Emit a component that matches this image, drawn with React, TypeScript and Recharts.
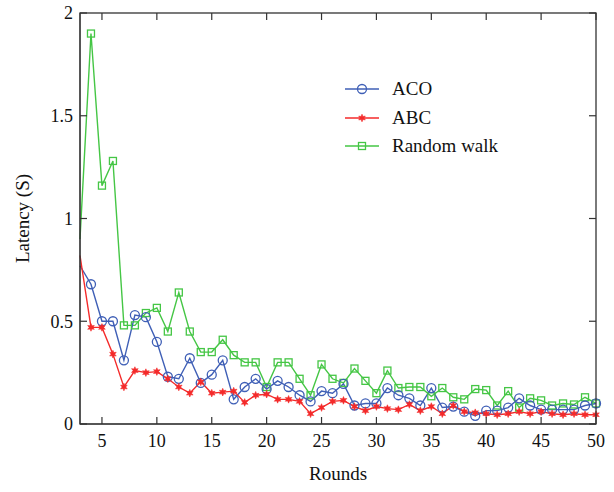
import React from "react"
import { LineChart, Line, XAxis, YAxis } from "recharts"

const rounds = [3, 4, 5, 6, 7, 8, 9, 10, 11, 12, 13, 14, 15, 16, 17, 18, 19, 20, 21, 22, 23, 24, 25, 26, 27, 28, 29, 30, 31, 32, 33, 34, 35, 36, 37, 38, 39, 40, 41, 42, 43, 44, 45, 46, 47, 48, 49, 50]

const aco = [0.77, 0.68, 0.5, 0.5, 0.31, 0.53, 0.52, 0.4, 0.23, 0.22, 0.32, 0.2, 0.24, 0.31, 0.12, 0.18, 0.22, 0.17, 0.21, 0.18, 0.14, 0.11, 0.16, 0.15, 0.195, 0.09, 0.1, 0.1, 0.175, 0.14, 0.125, 0.09, 0.175, 0.08, 0.085, 0.06, 0.04, 0.065, 0.065, 0.08, 0.125, 0.09, 0.07, 0.07, 0.07, 0.07, 0.09, 0.1]

const abc = [0.82, 0.47, 0.47, 0.34, 0.18, 0.26, 0.25, 0.255, 0.22, 0.18, 0.15, 0.205, 0.15, 0.155, 0.16, 0.105, 0.14, 0.145, 0.12, 0.12, 0.11, 0.05, 0.08, 0.11, 0.115, 0.085, 0.065, 0.085, 0.075, 0.07, 0.095, 0.065, 0.085, 0.05, 0.09, 0.06, 0.055, 0.05, 0.045, 0.05, 0.06, 0.05, 0.06, 0.05, 0.045, 0.05, 0.045, 0.045]

const randomWalk = [0.9, 1.9, 1.16, 1.28, 0.48, 0.48, 0.54, 0.565, 0.45, 0.64, 0.45, 0.35, 0.35, 0.41, 0.335, 0.3, 0.3, 0.18, 0.3, 0.3, 0.22, 0.14, 0.29, 0.22, 0.2, 0.27, 0.21, 0.15, 0.26, 0.175, 0.18, 0.18, 0.135, 0.175, 0.13, 0.12, 0.17, 0.165, 0.09, 0.16, 0.08, 0.125, 0.115, 0.09, 0.1, 0.095, 0.13, 0.1]

const xTicks = [5, 10, 15, 20, 25, 30, 35, 40, 45, 50]
const yTicks = [0, 0.5, 1, 1.5, 2]
const X_DOMAIN: [number, number] = [3, 50]
const Y_DOMAIN: [number, number] = [0, 2]

const BLUE = "#3f5fb6"
const RED = "#f42a2a"
const GREEN = "#45c645"
const AXIS = "#333"
const FONT = "'Liberation Serif', 'DejaVu Serif', serif"

// chart box
const W = 614
const H = 492
const M = { top: 13, right: 18, bottom: 0, left: 0 }
const Y_AXIS_W = 80
const X_AXIS_H = 68
const PLOT = {
  left: M.left + Y_AXIS_W,
  top: M.top,
  right: W - M.right,
  bottom: H - M.bottom - X_AXIS_H,
}
const TICK_LEN = 7

const data = rounds.map((round, i) => ({
  round,
  aco: aco[i],
  abc: abc[i],
  rw: randomWalk[i],
}))

function circleMark(cx: number, cy: number, color: string, key?: string) {
  return <circle key={key} cx={cx} cy={cy} r={4.5} fill="none" stroke={color} strokeWidth={1.3} />
}

function squareMark(cx: number, cy: number, color: string, key?: string) {
  return <rect key={key} x={cx - 3.5} y={cy - 3.5} width={7} height={7} fill="none" stroke={color} strokeWidth={1.3} />
}

function starMark(cx: number, cy: number, color: string, key?: string) {
  const pts: string[] = []
  for (let k = 0; k < 12; k++) {
    const r = k % 2 === 0 ? 3.8 : 1.8
    const a = (Math.PI / 6) * k - Math.PI / 2
    pts.push(`${cx + r * Math.cos(a)},${cy + r * Math.sin(a)}`)
  }
  return <polygon key={key} points={pts.join(" ")} fill={color} stroke={color} strokeWidth={0.6} />
}

const makeDot = (draw: typeof circleMark, color: string) => (props: any) => {
  const { cx, cy, payload, index } = props
  if (payload.round === 3 || cx == null) return <g key={`d-${index}`} />
  return draw(cx, cy, color, `d-${index}`)
}

const legendItems = [
  { name: "ACO", color: BLUE, draw: circleMark },
  { name: "ABC", color: RED, draw: starMark },
  { name: "Random walk", color: GREEN, draw: squareMark },
]

const tickStyle = { fontFamily: FONT, fontSize: 18, fill: "#111" }
const labelStyle = { fontFamily: FONT, fontSize: 19, fill: "#111" }

// frame + inward tick marks (gnuplot style box), laid over the plot area
function Frame() {
  const tx = (t: number) => PLOT.left + ((t - X_DOMAIN[0]) / (X_DOMAIN[1] - X_DOMAIN[0])) * (PLOT.right - PLOT.left)
  const ty = (t: number) => PLOT.bottom - ((t - Y_DOMAIN[0]) / (Y_DOMAIN[1] - Y_DOMAIN[0])) * (PLOT.bottom - PLOT.top)
  return (
    <svg width={W} height={H} style={{ position: "absolute", left: 0, top: 0, pointerEvents: "none" }}>
      <rect x={PLOT.left} y={PLOT.top} width={PLOT.right - PLOT.left} height={PLOT.bottom - PLOT.top} fill="none" stroke={AXIS} strokeWidth={1.3} />
      {xTicks.map((t) => (
        <g key={`x-${t}`}>
          <line x1={tx(t)} y1={PLOT.bottom} x2={tx(t)} y2={PLOT.bottom - TICK_LEN} stroke={AXIS} strokeWidth={1.2} />
          <line x1={tx(t)} y1={PLOT.top} x2={tx(t)} y2={PLOT.top + TICK_LEN} stroke={AXIS} strokeWidth={1.2} />
        </g>
      ))}
      {yTicks.map((t) => (
        <g key={`y-${t}`}>
          <line x1={PLOT.left} y1={ty(t)} x2={PLOT.left + TICK_LEN} y2={ty(t)} stroke={AXIS} strokeWidth={1.2} />
          <line x1={PLOT.right} y1={ty(t)} x2={PLOT.right - TICK_LEN} y2={ty(t)} stroke={AXIS} strokeWidth={1.2} />
        </g>
      ))}
    </svg>
  )
}

export default function App() {
  return (
    <div style={{ position: "absolute", left: 0, top: 0, width: W, height: H }}>
      <LineChart width={W} height={H} data={data} margin={M}>
        <XAxis
          dataKey="round"
          type="number"
          domain={X_DOMAIN}
          ticks={xTicks}
          height={X_AXIS_H}
          tickSize={0}
          tickMargin={10}
          tickLine={false}
          tick={tickStyle}
          stroke={AXIS}
          label={{ value: "Rounds", position: "insideBottom", offset: 12, style: labelStyle }}
        />
        <YAxis
          domain={Y_DOMAIN}
          ticks={yTicks}
          width={Y_AXIS_W}
          tickSize={0}
          tickMargin={7}
          tickLine={false}
          tick={tickStyle}
          stroke={AXIS}
          label={{ value: "Latency (S)", angle: -90, position: "center", dx: -18, style: labelStyle }}
        />
        <Line dataKey="rw" name="Random walk" stroke={GREEN} strokeWidth={1.4} dot={makeDot(squareMark, GREEN)} isAnimationActive={false} />
        <Line dataKey="aco" name="ACO" stroke={BLUE} strokeWidth={1.4} dot={makeDot(circleMark, BLUE)} isAnimationActive={false} />
        <Line dataKey="abc" name="ABC" stroke={RED} strokeWidth={1.4} dot={makeDot(starMark, RED)} isAnimationActive={false} />
      </LineChart>
      <Frame />
      <div style={{ position: "absolute", left: 345, top: 75, fontFamily: FONT, fontSize: 19, color: "#111" }}>
        {legendItems.map((it) => (
          <div key={it.name} style={{ display: "flex", alignItems: "center", height: 28.5 }}>
            <svg width={34} height={14} style={{ marginRight: 13 }}>
              <line x1={0} y1={7} x2={34} y2={7} stroke={it.color} strokeWidth={1.5} />
              {it.draw(17, 7, it.color)}
            </svg>
            <span>{it.name}</span>
          </div>
        ))}
      </div>
    </div>
  )
}
